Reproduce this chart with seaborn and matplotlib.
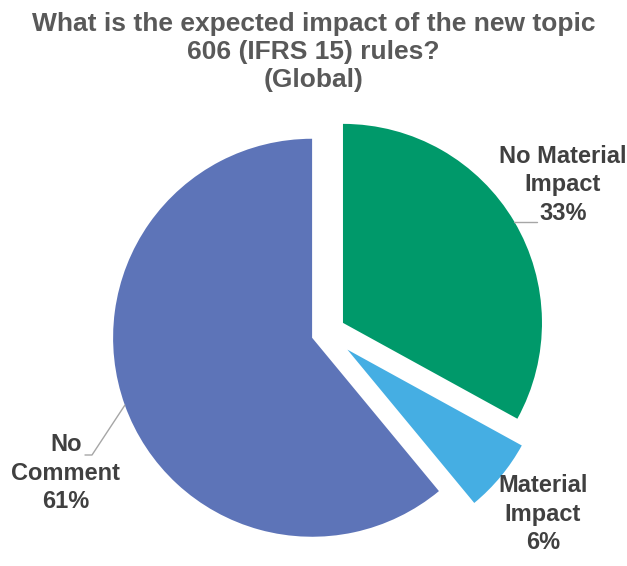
import numpy as np
import matplotlib
matplotlib.use("Agg")
import matplotlib.pyplot as plt
import seaborn as sns

# Survey answers
categories = ["No Material\nImpact", "Material\nImpact", "No\nComment"]
shares = [33, 6, 61]
colors = ["#00996A", "#45AEE3", "#5D74B8"]
explode = [0.095, 0.135, 0.078]
title = "What is the expected impact of the new topic\n606 (IFRS 15) rules?\n(Global)"

sns.set_theme(style="white")
plt.rcParams["font.family"] = ["Liberation Sans", "DejaVu Sans"]

W, H = 627, 566
fig = plt.figure(figsize=(W / 100, H / 100), dpi=100)
ax = fig.add_axes([0, 0, 1, 1])

center = (326.7, H - 332.5)
radius = 199

# explode offsets are in data units, so scale by the radius
wedges, _ = ax.pie(
    shares,
    colors=colors,
    explode=np.array(explode) * radius,
    startangle=90,
    counterclock=False,
    radius=radius,
    center=center,
    wedgeprops=dict(linewidth=0),
    frame=True,
)
ax.set_xlim(0, W)
ax.set_ylim(0, H)
ax.set_aspect("equal")
ax.axis("off")

label_color = "#404040"
line_color = "#A6A6A6"


def edge_point(w):
    mid = np.deg2rad((w.theta1 + w.theta2) / 2)
    cx, cy = w.center
    return cx + w.r * np.cos(mid), cy + w.r * np.sin(mid)


label_pos = [(563, H - 185), (543, H - 514), (66, H - 473)]
for w, cat, val, (lx, ly) in zip(wedges, categories, shares, label_pos):
    ax.text(lx, ly, f"{cat}\n{val}%", ha="center", va="center",
            fontsize=17, fontweight="bold", color=label_color, linespacing=1.3)

# leader lines
gx, gy = edge_point(wedges[0])
ax.plot([gx, 537], [gy, gy], color=line_color, lw=1)
bx, by = edge_point(wedges[2])
ax.plot([bx, 92, 85], [by, H - 455, H - 455], color=line_color, lw=1)

fig.text(0.5, 1 - 52 / H, title, ha="center", va="center", fontsize=19,
         fontweight="bold", color="#595959", linespacing=1.2)

fig.savefig("out.png", dpi=100, facecolor="white")
